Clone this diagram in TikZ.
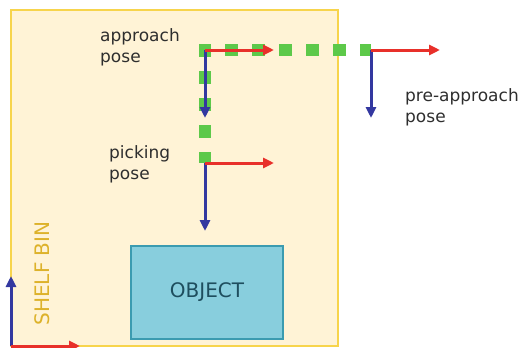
\documentclass[tikz,border=0pt]{standalone}
\usepackage{fontspec}
\setmainfont{DejaVu Sans}
\usetikzlibrary{arrows.meta}

\definecolor{binfill}{HTML}{FFF3D6}
\definecolor{binline}{HTML}{F7D44C}
\definecolor{bintext}{HTML}{DDB22A}
\definecolor{objfill}{HTML}{88CEDD}
\definecolor{objline}{HTML}{3B9BB0}
\definecolor{objtext}{HTML}{1E4E5E}
\definecolor{xaxis}{HTML}{E8302A}
\definecolor{zaxis}{HTML}{3338A0}
\definecolor{pathgreen}{HTML}{5DC94A}
\definecolor{labeltext}{HTML}{2E2E2E}

\begin{document}
\begin{tikzpicture}[x=1pt,y=-1pt,
    xarrow/.style={line width=3pt,xaxis,-{Triangle[length=11pt,width=10pt]}},
    zarrow/.style={line width=3pt,zaxis,-{Triangle[length=11pt,width=10pt]}},
    greenpath/.style={pathgreen,line width=12.5pt,dash pattern=on 13pt off 14pt},
    poselabel/.style={labeltext,align=left,inner sep=0pt,anchor=north west,
      font=\fontsize{17}{21}\selectfont}
  ]
  \useasboundingbox (0,0) rectangle (520,348);

  \draw[binline,fill=binfill,line width=2pt] (11,10) rectangle (338,346);
  \node[draw=objline,fill=objfill,line width=2pt,minimum width=152pt,minimum height=93pt,
    text=objtext,font=\fontsize{20}{24}\selectfont] (object) at (207,292.5) {OBJECT};
  \node[bintext,rotate=90,inner sep=0pt,font=\fontsize{20}{24}\selectfont]
    (binlabel) at (42,273.5) {SHELF BIN};

  \coordinate (approach) at (205,50);
  \coordinate (preapproach) at (371,50);
  \coordinate (picking) at (205,163);
  \coordinate (bin) at (11,346);

  % path of the gripper
  \draw[greenpath,dash phase=2pt,line join=miter] (preapproach) -- (approach) -- (picking);

  \foreach \pose in {approach,preapproach,picking} {
    \draw[zarrow] (\pose) -- ++(0,68);
    \draw[xarrow] (\pose) -- ++(69,0);
  }
  \draw[zarrow] (bin) -- ++(0,-70);
  \draw[xarrow] (bin) -- ++(69,0);

  \node[poselabel] (approachlabel) at (100,28) {approach\\pose};
  \node[poselabel] (pickinglabel) at (109,145) {picking\\pose};
  \node[poselabel] (prelabel) at (405,88) {pre-approach\\pose};
\end{tikzpicture}
\end{document}
